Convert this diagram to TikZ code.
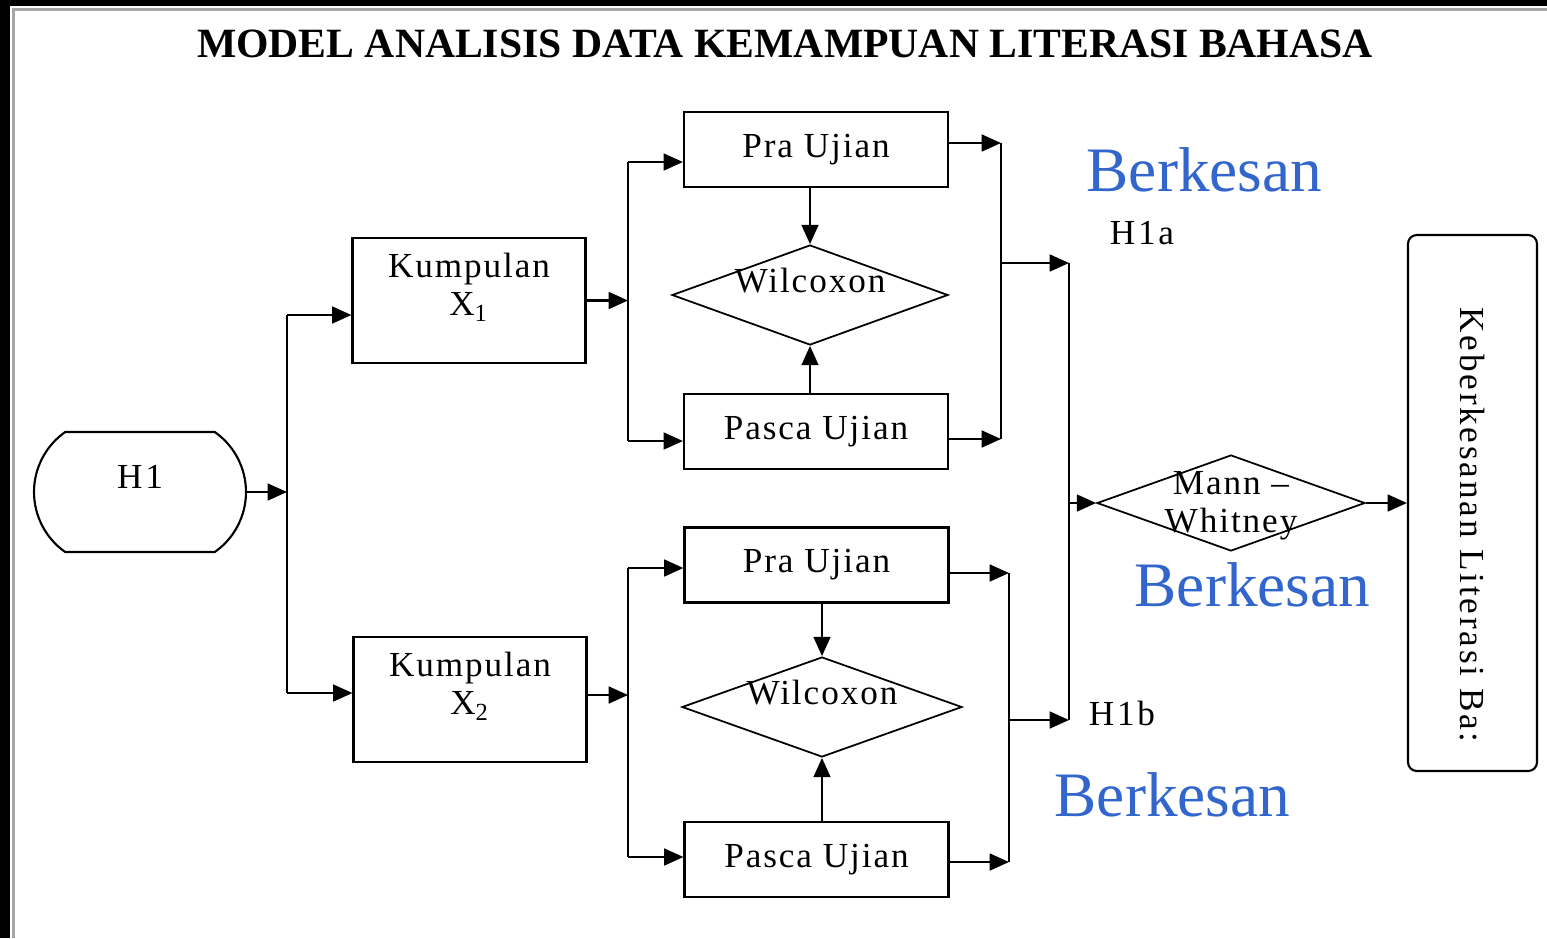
\documentclass[tikz,border=0pt]{standalone}
\usepackage{fontspec}
\setmainfont{Liberation Serif}
\newfontfamily\spaced[LetterSpace=5.5]{Liberation Serif}
\newfontfamily\wide[LetterSpace=8]{Liberation Serif}
\usetikzlibrary{shapes.geometric,shapes.misc,arrows.meta}
\definecolor{kesan}{RGB}{51,102,204}
\newlength{\pxu}\setlength{\pxu}{0.01cm}
\newcommand{\lift}[2]{\raisebox{#1}[0pt][0pt]{#2}}
\renewcommand{\arraystretch}{0.9}
\tikzset{
  box/.style={draw, line width=0.6pt, inner sep=0pt, font=\spaced},
  ujian/.style={box, minimum width=264\pxu, minimum height=75\pxu},
  kumpulan/.style={box, minimum width=233\pxu, minimum height=125\pxu},
  uji/.style={draw, diamond, line width=0.5pt, inner sep=0pt, font=\spaced},
  berkesan/.style={text=kesan, font=\fontsize{18pt}{20pt}\selectfont},
  panah/.style={-{Triangle[length=5.5pt,width=4.8pt]}},
}
\begin{document}
\begin{tikzpicture}[x=0.01cm,y=-0.01cm,line width=0.6pt]
\useasboundingbox (0,0) rectangle (1547,938);
\fill (0,0) rectangle (10,938);
\fill (0,0) rectangle (1547,6);
\draw[gray!70,line width=0.7pt] (13.5,938) -- (13.5,9.5) -- (1547,9.5);

\node[font=\bfseries\fontsize{11.85pt}{14pt}\selectfont] (judul) at (785,44) {MODEL ANALISIS DATA KEMAMPUAN LITERASI BAHASA};

\node[box, rounded rectangle, rounded rectangle arc length=110, minimum width=212\pxu, minimum height=120\pxu, font=\wide] (h1) at (140,492) {\lift{3.5\pxu}{H1}};
\node[kumpulan] (k1) at (469,300.5) {\lift{2.5\pxu}{\begin{tabular}{@{}c@{}}Kumpulan\\X\textsubscript{1}\end{tabular}}};
\node[kumpulan] (k2) at (470,699.5) {\lift{2.5\pxu}{\begin{tabular}{@{}c@{}}Kumpulan\\X\textsubscript{2}\end{tabular}}};

\node[ujian] (pra1) at (816,149.5) {Pra Ujian};
\node[ujian] (pasca1) at (816,431.5) {Pasca Ujian};
\node[ujian] (pra2) at (816.5,565) {Pra Ujian};
\node[ujian] (pasca2) at (816.5,859.5) {Pasca Ujian};
\node[uji, minimum width=276\pxu, minimum height=100\pxu, aspect=2.76] (wil1) at (810,295) {\lift{3\pxu}{Wilcoxon}};
\node[uji, minimum width=280\pxu, minimum height=100\pxu, aspect=2.8] (wil2) at (822,707) {\lift{3\pxu}{Wilcoxon}};

\node[uji, minimum width=268\pxu, minimum height=96\pxu, aspect=2.8] (mw) at (1231,503) {\lift{-12\pxu}{\begin{tabular}{@{}c@{}}Mann –\\Whitney\end{tabular}}};
\node[box, rounded corners=2.5pt, rotate=-90, minimum width=536\pxu, minimum height=129\pxu, font=\wide] (kb) at (1472.5,503) {\hspace*{44\pxu}Keberkesanan Literasi Ba:};

\node[font=\wide] (h1a) at (1142,233) {H1a};
\node[font=\wide] (h1b) at (1122,713) {H1b};
\node[berkesan] (bk1) at (1204.5,170) {Berkesan};
\node[berkesan] (bk2) at (1252.5,585) {Berkesan};
\node[berkesan] (bk3) at (1172.5,795) {Berkesan};

\coordinate (a1) at (287,315);
\coordinate (a2) at (287,693);
\draw (a1) -- (a2);
\draw[panah] (h1.east) -- (h1.east -| a1);
\draw[panah] (a1) -- (a1 -| k1.west);
\draw[panah] (a2) -- (a2 -| k2.west);

\coordinate (b1) at (628,162);
\coordinate (b2) at (628,441);
\coordinate (b3) at (628,568);
\coordinate (b4) at (628,857);
\coordinate (b5) at (628,695);
\draw (b1) -- (b2);
\draw (b3) -- (b4);
\draw[panah] (k1.east) -- (k1.east -| b1);
\draw[panah] (b5 -| k2.east) -- (b5);
\draw[panah] (b1) -- (b1 -| pra1.west);
\draw[panah] (b2) -- (b2 -| pasca1.west);
\draw[panah] (b3) -- (b3 -| pra2.west);
\draw[panah] (b4) -- (b4 -| pasca2.west);

\draw[panah] (pra1.south -| wil1.north) -- (wil1.north);
\draw[panah] (pasca1.north -| wil1.south) -- (wil1.south);
\draw[panah] (pra2.south -| wil2.north) -- (wil2.north);
\draw[panah] (pasca2.north -| wil2.south) -- (wil2.south);

\coordinate (c1) at (1001,143);
\coordinate (c2) at (1001,439);
\coordinate (c3) at (1009,573);
\coordinate (c4) at (1009,862);
\draw (c1) -- (c2);
\draw (c3) -- (c4);
\draw[panah] (c1 -| pra1.east) -- (c1);
\draw[panah] (c2 -| pasca1.east) -- (c2);
\draw[panah] (c3 -| pra2.east) -- (c3);
\draw[panah] (c4 -| pasca2.east) -- (c4);

\coordinate (d1) at (1069,263);
\coordinate (d2) at (1069,720);
\draw (d1) -- (d2);
\draw[panah] (d1 -| c1) -- (d1);
\draw[panah] (d2 -| c3) -- (d2);
\draw[panah] (d1 |- mw.west) -- (mw.west);
\draw[panah] (mw.east) -- (kb.south);
\end{tikzpicture}
\end{document}
